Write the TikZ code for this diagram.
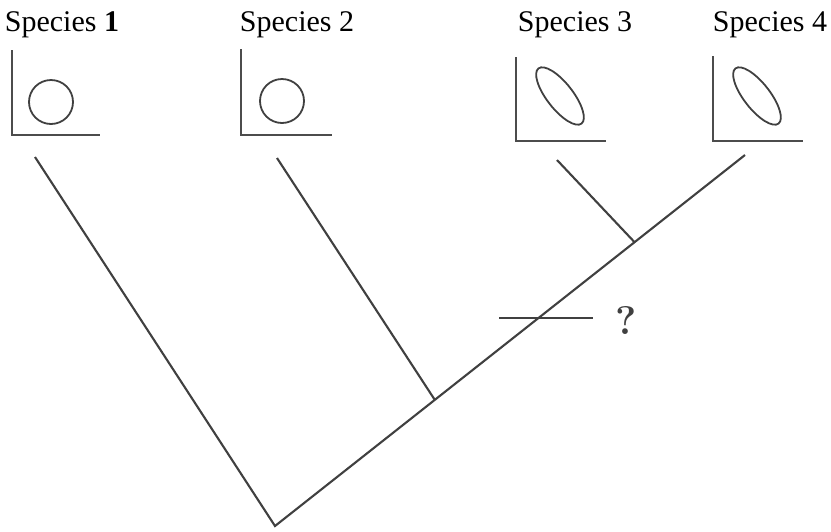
\documentclass[tikz,border=0pt]{standalone}
\usepackage{fontspec}
\setmainfont{Liberation Serif}
\newfontfamily\lmfont{Latin Modern Roman}
\usetikzlibrary{calc}
\begin{document}
\begin{tikzpicture}[x=1pt,y=-1pt,
  branch/.style={draw=black!75,line width=2.1pt},
  axis/.style={draw=black!70,line width=2pt},
  blob/.style={draw=black!75,line width=1.8pt},
  label/.style={font=\fontsize{30}{34}\selectfont,anchor=base,inner sep=0pt}]
\useasboundingbox (0,0) rectangle (831,531);
% labels
\node[label] (l1) at (62,31) {Species \textbf{1}};
\node[label] (l2) at (297,31) {Species 2};
\node[label] (l3) at (575,31) {Species 3};
\node[label] (l4) at (770,31) {Species 4};
% plots
\draw[axis] (12,50) -- (12,135) -- (100,135);
\draw[blob] (51,102) circle[radius=22];
\draw[axis] (241,49) -- (241,135) -- (332,135);
\draw[blob] (282,101) circle[radius=22];
\draw[axis] (516,57) -- (516,141) -- (606,141);
\draw[blob] (560,96) ellipse[x radius=35,y radius=13,rotate=-52];
\draw[axis] (713,56) -- (713,141) -- (803,141);
\draw[blob] (757,96) ellipse[x radius=35,y radius=13,rotate=-52];
% tree
\coordinate (root) at (275,526);
\coordinate (t1) at (35,157);
\coordinate (t2) at (277,158);
\coordinate (t3) at (557,160);
\coordinate (t4) at (745,155);
\coordinate (j2) at ($(root)!0.34!(t4)$);
\coordinate (j3) at ($(root)!0.765!(t4)$);
\draw[branch] (t1) -- (root) -- (t4);
\draw[branch] (t2) -- (j2);
\draw[branch] (t3) -- (j3);
\coordinate (c1) at (499,318);
\coordinate (c2) at (593,318);
\draw[branch] (c1) -- (c2);
\node[font=\lmfont\bfseries\fontsize{40}{44}\selectfont,text=black!75,inner sep=0pt] (q) at (626,320) {?};
\end{tikzpicture}
\end{document}
